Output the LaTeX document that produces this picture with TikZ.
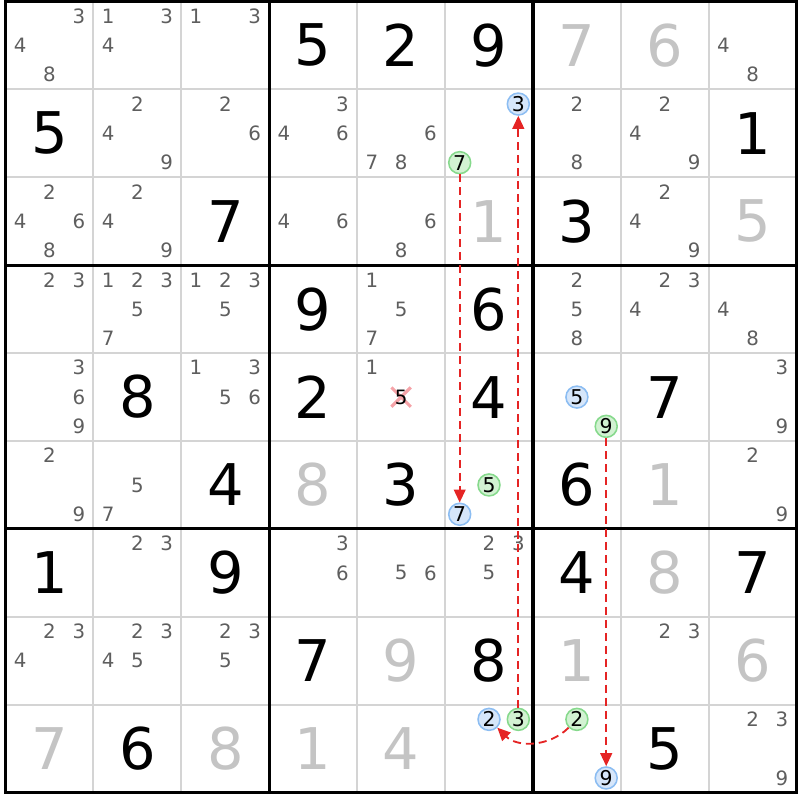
\documentclass[tikz,border=0pt]{standalone}
\usepackage{fontspec}
\setmainfont{DejaVu Sans}
\usetikzlibrary{arrows.meta}

\definecolor{gridgray}{HTML}{D4D4D4}
\definecolor{candgray}{HTML}{5E5E5E}
\definecolor{solvedgray}{HTML}{C4C4C4}
\definecolor{linkred}{HTML}{E52424}
\definecolor{bluefill}{HTML}{D6E6FA}
\definecolor{blueline}{HTML}{8CBDF2}
\definecolor{greenfill}{HTML}{D2F2D2}
\definecolor{greenline}{HTML}{86D98C}
\definecolor{crosspink}{HTML}{F5A3A8}

\begin{document}
\begin{tikzpicture}[x=1cm,y=-1cm,
    given/.style={font=\fontsize{18.6}{20}\selectfont,text=black,inner sep=0pt},
    solved/.style={given,text=solvedgray},
    cand/.style={font=\fontsize{6.4}{7}\selectfont,text=candgray,inner sep=0pt},
    bluecand/.style={circle,draw=blueline,fill=bluefill,line width=0.5pt,
        minimum size=0.25cm,inner sep=0pt,font=\fontsize{6.6}{7}\selectfont},
    greencand/.style={bluecand,draw=greenline,fill=greenfill},
    link/.style={linkred,dash pattern=on 2.6pt off 1.6pt,line width=0.6pt,
        -{Triangle[length=4.2pt,width=3.8pt]}}]
    \useasboundingbox (-0.063,-0.017) rectangle (9.038,9.084);

    % grid
    \foreach \i in {1,2,4,5,7,8} {
        \draw[gridgray,line width=0.65pt] (\i,0) -- (\i,9);
        \draw[gridgray,line width=0.65pt] (0,\i) -- (9,\i);
    }
    \draw[line width=1pt] (3,0) -- (3,9);
    \draw[line width=1pt] (6,0) -- (6,9);
    \draw[line width=1pt] (0,3) -- (9,3);
    \draw[line width=1pt] (0,6) -- (9,6);
    \draw[line width=1pt] (0,0) rectangle (9,9);

    % givens and solved cells
    \foreach \r/\c/\d in {1/4/5,1/5/2,1/6/9,2/1/5,2/9/1,3/3/7,3/7/3,4/4/9,4/6/6,
        5/2/8,5/4/2,5/6/4,5/8/7,6/3/4,6/5/3,6/7/6,7/1/1,7/3/9,7/7/4,7/9/7,
        8/4/7,8/6/8,9/2/6,9/8/5}
        \node[given] (v-\r-\c) at (\c-0.5,\r-0.5) {\d};
    \foreach \r/\c/\d in {1/7/7,1/8/6,3/6/1,3/9/5,6/4/8,6/8/1,7/8/8,8/5/9,
        8/7/1,8/9/6,9/1/7,9/3/8,9/4/1,9/5/4}
        \node[solved] (v-\r-\c) at (\c-0.5,\r-0.5) {\d};

    % candidates
    \foreach \r/\c/\ds in {1/1/{3,4,8},1/2/{1,3,4},1/3/{1,3},1/9/{4,8},
        2/2/{2,4,9},2/3/{2,6},2/4/{3,4,6},2/5/{6,7,8},2/7/{2,8},2/8/{2,4,9},
        3/1/{2,4,6,8},3/2/{2,4,9},3/4/{4,6},3/5/{6,8},3/8/{2,4,9},
        4/1/{2,3},4/2/{1,2,3,5,7},4/3/{1,2,3,5},4/5/{1,5,7},4/7/{2,5,8},
        4/8/{2,3,4},4/9/{4,8},
        5/1/{3,6,9},5/3/{1,3,5,6},5/5/{1},5/9/{3,9},
        6/1/{2,9},6/2/{5,7},6/9/{2,9},
        7/2/{2,3},7/4/{3,6},7/5/{5,6},7/6/{2,3,5},
        8/1/{2,3,4},8/2/{2,3,4,5},8/3/{2,3,5},8/8/{2,3},
        9/9/{2,3,9}}
        \foreach \d in \ds
            \node[cand] (k-\r-\c-\d) at ({\c-1+(mod(\d-1,3)+0.5)/3},{\r-1+(floor((\d-1)/3)+0.5)/3}) {\d};

    % eliminated candidate
    \draw[crosspink,line width=1pt] (4.39,4.39) -- (4.61,4.61);
    \draw[crosspink,line width=1pt] (4.39,4.61) -- (4.61,4.39);
    \node[cand,text=black] (x-5-5-5) at (4.5,4.5) {5};

    % chain
    \foreach \r/\c/\d in {2/6/3,6/6/7,5/7/5,9/6/2,9/7/9}
        \node[bluecand] (h-\r-\c-\d) at ({\c-1+(mod(\d-1,3)+0.5)/3},{\r-1+(floor((\d-1)/3)+0.5)/3}) {\d};
    \foreach \r/\c/\d in {2/6/7,6/6/5,5/7/9,9/6/3,9/7/2}
        \node[greencand] (h-\r-\c-\d) at ({\c-1+(mod(\d-1,3)+0.5)/3},{\r-1+(floor((\d-1)/3)+0.5)/3}) {\d};

    \draw[link] (h-2-6-7) -- (h-6-6-7);
    \draw[link] (h-9-6-3) -- (h-2-6-3);
    \draw[link] (h-5-7-9) -- (h-9-7-9);
    \draw[link] (h-9-7-2) to[bend left=45] (h-9-6-2);
\end{tikzpicture}
\end{document}
